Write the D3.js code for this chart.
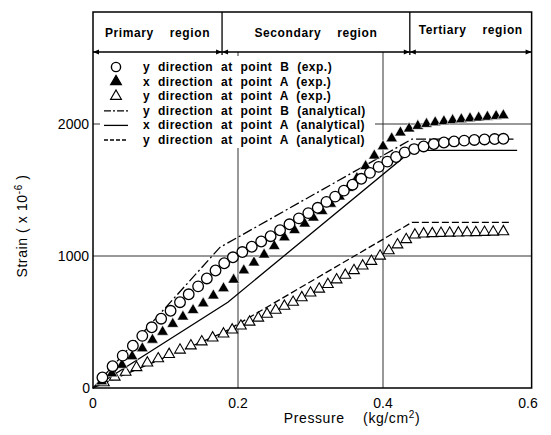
<!DOCTYPE html>
<html>
<head>
<meta charset="utf-8">
<script src="https://cdn.jsdelivr.net/npm/d3@7"></script>
<style>
  body { margin: 0; background: #fff; }
  text { font-family: "Liberation Sans", Arial, sans-serif; fill: #000; }
  .lbl { font-weight: bold; font-size: 12px; word-spacing: 4px; letter-spacing: 0.5px; }
  .reg { font-weight: bold; font-size: 12px; word-spacing: 12px; letter-spacing: 0.6px; }
  .tick { font-size: 14px; }
</style>
</head>
<body>
<div id="chart"></div>
<script>
var width = 551;
var height = 435;

// y direction at point B (exp.) - open circles
var circB = [
  [0.013, 80], [0.027, 165], [0.041, 245], [0.055, 320], [0.068, 395], [0.081, 460],
  [0.094, 525], [0.107, 585], [0.120, 650], [0.132, 710], [0.145, 770], [0.157, 830],
  [0.169, 890], [0.181, 945], [0.193, 990], [0.206, 1030], [0.219, 1070], [0.232, 1110],
  [0.245, 1150], [0.258, 1195], [0.271, 1240], [0.284, 1285], [0.297, 1325], [0.310, 1365],
  [0.322, 1410], [0.334, 1450], [0.346, 1495], [0.358, 1540], [0.370, 1585], [0.382, 1630],
  [0.394, 1675], [0.406, 1715], [0.418, 1750], [0.430, 1785], [0.443, 1810], [0.456, 1830],
  [0.470, 1848], [0.484, 1860], [0.498, 1868], [0.512, 1874], [0.526, 1879], [0.540, 1883],
  [0.554, 1886], [0.566, 1888]
];

// x direction at point A (exp.) - filled triangles
var triXA = [
  [0.012, 50], [0.026, 110], [0.040, 175], [0.054, 240], [0.068, 300], [0.082, 365],
  [0.096, 425], [0.110, 485], [0.124, 540], [0.138, 590], [0.152, 640], [0.166, 700],
  [0.180, 755], [0.194, 820], [0.208, 890], [0.222, 950], [0.236, 1010], [0.250, 1075],
  [0.264, 1140], [0.278, 1195], [0.292, 1245], [0.304, 1290], [0.316, 1340], [0.328, 1395],
  [0.340, 1450], [0.352, 1515], [0.364, 1590], [0.376, 1680], [0.388, 1760], [0.400, 1830],
  [0.412, 1890], [0.424, 1935], [0.436, 1965], [0.448, 1985], [0.460, 2000], [0.472, 2012],
  [0.484, 2020], [0.496, 2028], [0.508, 2035], [0.520, 2042], [0.532, 2048], [0.544, 2054],
  [0.556, 2060], [0.566, 2065]
];

// y direction at point A (exp.) - open triangles
var triYA = [
  [0.015, 40], [0.030, 83], [0.045, 120], [0.060, 155], [0.075, 190], [0.090, 222],
  [0.105, 255], [0.120, 288], [0.135, 320], [0.150, 350], [0.165, 380], [0.180, 410],
  [0.192, 440], [0.204, 470], [0.216, 500], [0.228, 530], [0.240, 560], [0.252, 590],
  [0.264, 620], [0.276, 650], [0.288, 685], [0.300, 720], [0.312, 750], [0.324, 785],
  [0.336, 820], [0.348, 855], [0.360, 890], [0.372, 925], [0.384, 960], [0.396, 1000],
  [0.408, 1040], [0.420, 1085], [0.432, 1125], [0.444, 1160], [0.456, 1168], [0.468, 1170],
  [0.480, 1172], [0.492, 1174], [0.504, 1175], [0.516, 1177], [0.528, 1178], [0.540, 1180],
  [0.552, 1182], [0.566, 1185]
];

// analytical lines
var anaYB = [[0, 0], [0.175, 1065], [0.44, 1886], [0.58, 1886]];
var anaXA = [[0, 0], [0.186, 650], [0.44, 1800], [0.585, 1800]];
var anaYA = [[0, 0], [0.18, 420], [0.44, 1255], [0.575, 1255]];

var xTicks = [0, 0.2, 0.4, 0.6];
var yTicks = [0, 1000, 2000];
var regions = [
  {name: "Primary region", from: -0.006, to: 0.178},
  {name: "Secondary region", from: 0.178, to: 0.437},
  {name: "Tertiary region", from: 0.437, to: 0.605}
];
var legendItems = [
  {label: "y direction at point B (exp.)", kind: "circle"},
  {label: "x direction at point A (exp.)", kind: "tri"},
  {label: "y direction at point A (exp.)", kind: "otri"},
  {label: "y direction at point B (analytical)", kind: "dashdot"},
  {label: "x direction at point A (analytical)", kind: "solid"},
  {label: "y direction at point A (analytical)", kind: "dashed"}
];

/* Scales */
var xScale = d3.scaleLinear().domain([0, 0.6]).range([93, 528]);
var yScale = d3.scaleLinear().domain([0, 2000]).range([388, 124]);
var xRight = xScale(0.605);
var yTop = 12;
var yHead = 52;

var svg = d3.select("#chart").append("svg")
    .attr("width", width)
    .attr("height", height);

/* Grid lines */
svg.selectAll(".hgrid")
    .data(yTicks.slice(1)).enter()
    .append("line")
    .attr("x1", xScale(0)).attr("x2", xRight)
    .attr("y1", d => yScale(d)).attr("y2", d => yScale(d))
    .attr("stroke", "#333").attr("stroke-width", 1);

svg.selectAll(".vgrid")
    .data(xTicks.slice(1, 3)).enter()
    .append("line")
    .attr("x1", d => xScale(d)).attr("x2", d => xScale(d))
    .attr("y1", yScale(0)).attr("y2", yHead)
    .attr("stroke", "#333").attr("stroke-width", 1);

/* Frame */
svg.append("rect")
    .attr("x", xScale(0)).attr("y", yTop)
    .attr("width", xRight - xScale(0)).attr("height", yScale(0) - yTop)
    .attr("fill", "none").attr("stroke", "#000").attr("stroke-width", 1.5);

/* Region header */
svg.append("line")
    .attr("x1", xScale(0)).attr("x2", xRight)
    .attr("y1", yHead).attr("y2", yHead)
    .attr("stroke", "#000").attr("stroke-width", 1.3);

svg.selectAll(".divider")
    .data(regions.slice(1)).enter()
    .append("line")
    .attr("x1", d => xScale(d.from)).attr("x2", d => xScale(d.from))
    .attr("y1", yTop).attr("y2", yHead + 3)
    .attr("stroke", "#000").attr("stroke-width", 1.3);

// arrowheads at region ends
var arrows = [];
regions.forEach(function(r) {
  arrows.push({x: Math.max(xScale(r.from), xScale(0)), dir: -1});
  arrows.push({x: Math.min(xScale(r.to), xRight), dir: 1});
});
svg.selectAll(".arrow")
    .data(arrows).enter()
    .append("path")
    .attr("d", d => `M${d.x},${yHead} l${-d.dir * 6},-2.5 l0,5 z`)
    .attr("fill", "#000");

svg.selectAll(".region")
    .data(regions).enter()
    .append("text")
    .attr("class", "reg")
    .attr("x", d => (Math.max(xScale(d.from), xScale(0)) + Math.min(xScale(d.to), xRight)) / 2)
    .attr("y", (d, i) => i == 2 ? 34 : 37)
    .attr("text-anchor", "middle")
    .text(d => d.name);

/* Legend */
svg.append("rect")
    .attr("x", 100).attr("y", 56)
    .attr("width", 275).attr("height", 92)
    .attr("fill", "#fff");

var leg = svg.selectAll(".leg")
    .data(legendItems).enter()
    .append("g")
    .attr("transform", (d, i) => `translate(0, ${67 + i * 14.6})`);

leg.append("text")
    .attr("class", "lbl")
    .attr("x", 143).attr("y", 4)
    .text(d => d.label);

var triUp = d3.symbol().type(d3.symbolTriangle).size(50);

leg.each(function(d) {
  var g = d3.select(this);
  if (d.kind == "circle") {
    g.append("circle").attr("cx", 116).attr("cy", 0).attr("r", 4.6)
      .attr("fill", "#fff").attr("stroke", "#000").attr("stroke-width", 1.4);
  } else if (d.kind == "tri" || d.kind == "otri") {
    g.append("path").attr("d", triUp).attr("transform", "translate(116,0)")
      .attr("fill", d.kind == "tri" ? "#000" : "#fff")
      .attr("stroke", "#000").attr("stroke-width", 1.2);
  } else {
    g.append("line").attr("x1", 104).attr("x2", 128).attr("y1", 0).attr("y2", 0)
      .attr("stroke", "#000").attr("stroke-width", 1.3)
      .attr("stroke-dasharray", d.kind == "dashdot" ? "7,2,2,2" : d.kind == "dashed" ? "4,2" : null);
  }
});

/* Analytical lines */
var line = d3.line()
    .x(d => xScale(d[0]))
    .y(d => yScale(d[1]));

var lineDefs = [
  {data: anaYB, dash: "10,3,2,3"},
  {data: anaXA, dash: null},
  {data: anaYA, dash: "7,3"}
];
svg.selectAll(".ana")
    .data(lineDefs).enter()
    .append("path")
    .attr("d", d => line(d.data))
    .attr("fill", "none")
    .attr("stroke", "#000")
    .attr("stroke-width", 1.3)
    .attr("stroke-dasharray", d => d.dash);

/* Experimental markers */
svg.append("g").selectAll("path")
    .data(triYA).enter()
    .append("path")
    .attr("d", d3.symbol().type(d3.symbolTriangle).size(50))
    .attr("transform", d => `translate(${xScale(d[0])},${yScale(d[1])})`)
    .attr("fill", "#fff").attr("stroke", "#000").attr("stroke-width", 1.1);

svg.append("g").selectAll("path")
    .data(triXA).enter()
    .append("path")
    .attr("d", d3.symbol().type(d3.symbolTriangle).size(58))
    .attr("transform", d => `translate(${xScale(d[0])},${yScale(d[1])})`)
    .attr("fill", "#000").attr("stroke", "#fff").attr("stroke-width", 0.6);

svg.append("g").selectAll("circle")
    .data(circB).enter()
    .append("circle")
    .attr("cx", d => xScale(d[0]))
    .attr("cy", d => yScale(d[1]))
    .attr("r", 5.3)
    .attr("fill", "#fff").attr("stroke", "#000").attr("stroke-width", 1.3);

/* Axis labels */
svg.selectAll(".xt")
    .data(xTicks).enter()
    .append("text")
    .attr("class", "tick")
    .attr("x", d => xScale(d))
    .attr("y", 408)
    .attr("text-anchor", "middle")
    .text(d => d == 0 ? "0" : d3.format(".1f")(d));

svg.selectAll(".yt")
    .data(yTicks).enter()
    .append("text")
    .attr("class", "tick")
    .attr("x", d => d == 0 ? xScale(0) - 3 : xScale(0) - 4)
    .attr("y", d => yScale(d) + 5)
    .attr("text-anchor", "end")
    .text(d => d);

var xt = svg.append("text")
    .attr("x", 352).attr("y", 423)
    .attr("text-anchor", "middle")
    .style("font-size", "14px")
    .style("letter-spacing", "0.6px")
    .style("word-spacing", "14px");
xt.append("tspan").text("Pressure (kg/cm");
xt.append("tspan").attr("dy", -5).style("font-size", "10px").text("2");
xt.append("tspan").attr("dy", 5).text(")");

var yt = svg.append("text")
    .attr("transform", "translate(27, 226) rotate(-90)")
    .attr("text-anchor", "middle")
    .style("font-size", "14px")
    .style("letter-spacing", "0.6px");
yt.append("tspan").text("Strain  ( x 10");
yt.append("tspan").attr("dy", -5).style("font-size", "10px").text("-6");
yt.append("tspan").attr("dy", 5).text(" )");
</script>
</body>
</html>
